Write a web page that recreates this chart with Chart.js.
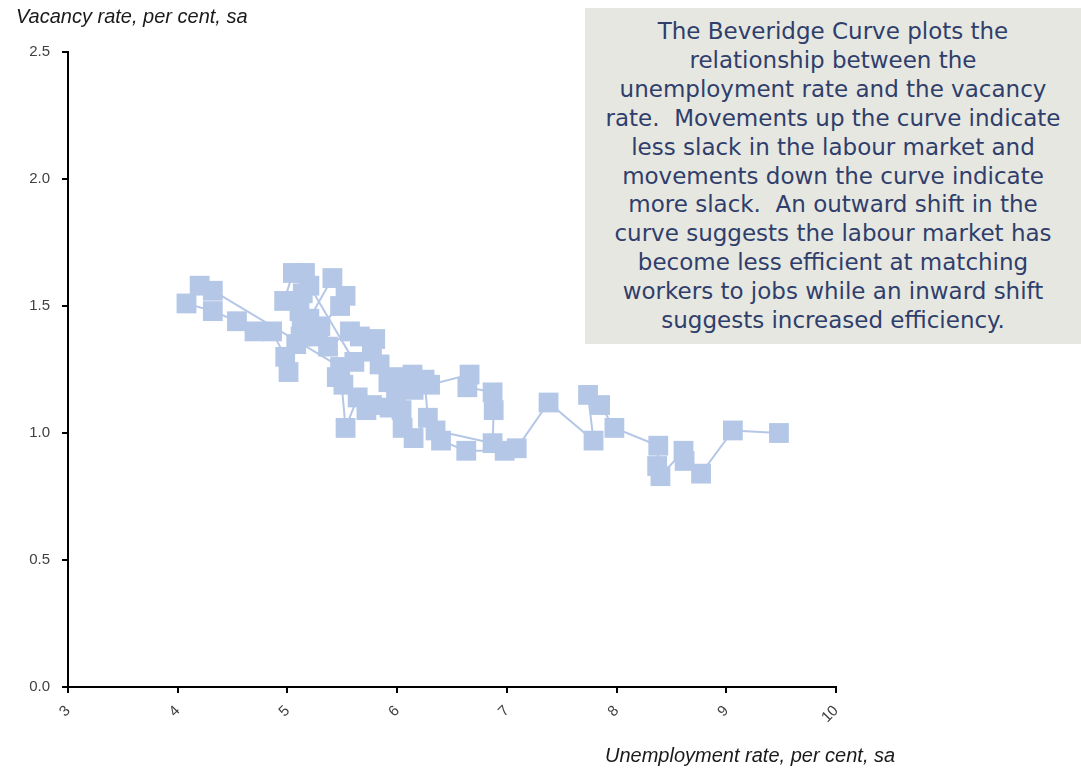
<!DOCTYPE html>
<html>
<head>
<meta charset="utf-8">
<script src="https://cdn.jsdelivr.net/npm/chart.js@4.4.1/dist/chart.umd.min.js"></script>
<style>
    body { margin: 0; background: #fff; }
    #wrap { position: relative; width: 1081px; height: 769px; overflow: hidden; }
    #beveridgeChart { position: absolute; left: 0; top: 0; }
    .axis-title {
        position: absolute;
        font-family: "Liberation Sans", Arial, sans-serif;
        font-style: italic;
        font-size: 20px;
        color: #1a1a1a;
        white-space: nowrap;
    }
    #noteBox {
        position: absolute;
        left: 585px;
        top: 8px;
        width: 496px;
        height: 336px;
        background: #e7e7e1;
        color: #2f3e6b;
        font-family: "DejaVu Sans", sans-serif;
        font-size: 23px;
        line-height: 28.9px;
        text-align: center;
        padding-top: 9px;
        box-sizing: border-box;
    }
    #noteBox div { white-space: pre; }
</style>
</head>
<body>
<div id="wrap">
    <canvas id="beveridgeChart" width="1081" height="769"></canvas>
    <div class="axis-title" style="left:16px; top:5px;">Vacancy rate, per cent, sa</div>
    <div class="axis-title" style="left:605px; top:744px;">Unemployment rate, per cent, sa</div>
    <div id="noteBox"></div>
</div>

<script>
// Unemployment rate (x) and vacancy rate (y), in order along the curve
const unemploymentRate = [
    9.48, 9.06, 8.77, 8.62, 8.61, 8.40, 8.37, 8.38, 7.98, 7.85,
    7.74, 7.79, 7.38, 7.09, 6.98, 6.63, 6.40, 6.35, 6.87, 6.88,
    6.87, 6.64, 6.66, 6.30, 6.25, 6.28, 6.15, 6.05, 6.04, 5.93,
    5.99, 6.15, 6.14, 6.01, 5.92, 5.84, 5.77, 5.80, 5.66, 5.57,
    5.37, 5.28, 5.18, 5.08, 5.01, 4.98, 4.86, 4.70, 4.54, 4.32,
    4.08, 4.20, 4.32, 5.48, 5.53, 5.64, 5.72, 5.77, 5.51, 5.45,
    5.61, 5.20, 5.16, 5.05, 4.97, 5.11, 5.14, 5.13, 5.20, 5.41,
    5.53, 5.48, 5.30, 5.12
];
const vacancyRate = [
    1.00, 1.01, 0.84, 0.89, 0.93, 0.83, 0.87, 0.95, 1.02, 1.11,
    1.15, 0.97, 1.12, 0.94, 0.93, 0.93, 0.97, 1.01, 0.96, 1.09,
    1.16, 1.18, 1.23, 1.19, 1.21, 1.06, 0.98, 1.02, 1.09, 1.10,
    1.15, 1.17, 1.23, 1.22, 1.20, 1.27, 1.32, 1.37, 1.38, 1.40,
    1.34, 1.38, 1.41, 1.35, 1.24, 1.30, 1.40, 1.40, 1.44, 1.48,
    1.51, 1.58, 1.56, 1.26, 1.02, 1.14, 1.09, 1.11, 1.19, 1.22,
    1.28, 1.58, 1.63, 1.63, 1.52, 1.48, 1.55, 1.44, 1.45, 1.61,
    1.54, 1.50, 1.42, 1.38
];

// Axis ranges and tick steps
const xTickValues = [3, 4, 5, 6, 7, 8, 9, 10];
const yTickValues = [0.0, 0.5, 1.0, 1.5, 2.0, 2.5];

const noteLines = [
    'The Beveridge Curve plots the',
    'relationship between the',
    'unemployment rate and the vacancy',
    'rate.  Movements up the curve indicate',
    'less slack in the labour market and',
    'movements down the curve indicate',
    'more slack.  An outward shift in the',
    'curve suggests the labour market has',
    'become less efficient at matching',
    'workers to jobs while an inward shift',
    'suggests increased efficiency.'
];

document.getElementById('noteBox').innerHTML = noteLines.map(l => `<div>${l}</div>`).join('');

const points = unemploymentRate.map((u, i) => ({ x: u, y: vacancyRate[i] }));
const markerColor = '#b4c7e7';
const tickFont = { family: '"Liberation Sans", Arial, sans-serif', size: 15 };

new Chart(document.getElementById('beveridgeChart').getContext('2d'), {
    type: 'scatter',
    data: {
        datasets: [{
            label: 'Beveridge Curve',
            data: points,
            showLine: true,
            borderColor: markerColor,
            borderWidth: 2,
            pointStyle: 'rect',
            pointRadius: 14,
            pointHoverRadius: 14,
            pointBackgroundColor: markerColor,
            pointBorderColor: markerColor,
            pointBorderWidth: 0
        }]
    },
    options: {
        responsive: false,
        animation: false,
        devicePixelRatio: 1,
        layout: { padding: { left: 0, top: 52, right: 245, bottom: 0 } },
        plugins: {
            legend: { display: false },
            tooltip: { enabled: false }
        },
        scales: {
            x: {
                type: 'linear',
                min: xTickValues[0],
                max: xTickValues[xTickValues.length - 1],
                afterBuildTicks: axis => { axis.ticks = xTickValues.map(v => ({ value: v })); },
                afterFit: axis => { axis.height = 82; },
                ticks: {
                    minRotation: 45,
                    maxRotation: 45,
                    padding: 9,
                    color: '#404040',
                    font: tickFont,
                    callback: v => String(v)
                },
                grid: { drawOnChartArea: false, drawTicks: true, tickLength: 6, color: '#000', lineWidth: 2 },
                border: { display: true, color: '#000', width: 2 }
            },
            y: {
                type: 'linear',
                min: yTickValues[0],
                max: yTickValues[yTickValues.length - 1],
                afterBuildTicks: axis => { axis.ticks = yTickValues.map(v => ({ value: v })); },
                afterFit: axis => { axis.width = 68; },
                ticks: {
                    padding: 12,
                    color: '#404040',
                    font: tickFont,
                    callback: v => Number(v).toFixed(1)
                },
                grid: { drawOnChartArea: false, drawTicks: true, tickLength: 6, color: '#000', lineWidth: 2 },
                border: { display: true, color: '#000', width: 2 }
            }
        }
    }
});
</script>
</body>
</html>
